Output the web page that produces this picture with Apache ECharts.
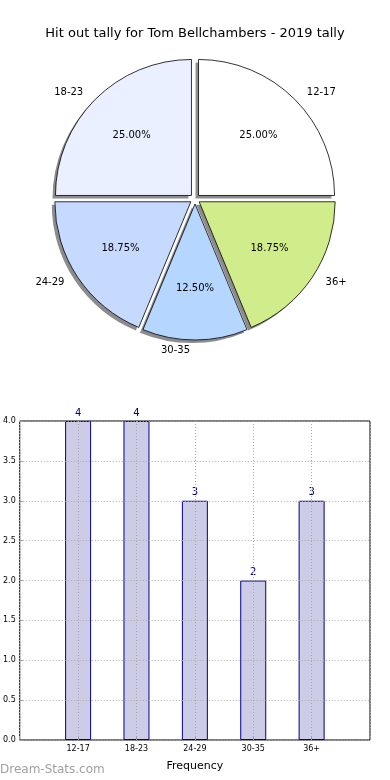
<!DOCTYPE html>
<html>
<head>
<meta charset="utf-8">
<script src="https://cdn.jsdelivr.net/npm/echarts@6/dist/echarts.min.js"></script>
<style>
html,body{margin:0;padding:0;background:#fff;}
#chart{width:390px;height:780px;}
</style>
</head>
<body>
<div id="chart"></div>
<script>
var titleText = 'Hit out tally for Tom Bellchambers - 2019 tally';
var categories = ['12-17', '18-23', '24-29', '30-35', '36+'];
var tallies = [4, 4, 3, 2, 3];
var sliceColors = ['#ffffff', '#eaf0ff', '#c6d9ff', '#b4d6ff', '#d0ec8b'];
var yTicks = [0, 0.5, 1, 1.5, 2, 2.5, 3, 3.5, 4];
var xAxisName = 'Frequency';
var watermark = 'Dream-Stats.com';

var total = tallies.reduce(function (a, b) { return a + b; }, 0);
var FONT = 'DejaVu Sans';
var R = 136;
var CX = 195, CY = 199;

function sliceItems(withColor) {
  return categories.map(function (c, i) {
    var d = { name: c, value: tallies[i], selected: true };
    if (withColor) d.itemStyle = { color: sliceColors[i] };
    return d;
  });
}
var barData = tallies.map(function (v, i) { return [i + 1, v]; });

var pieCommon = {
  type: 'pie', startAngle: 0, clockwise: false,
  selectedMode: 'multiple', selectedOffset: 5,
  silent: true, avoidLabelOverlap: false
};

var chart = echarts.init(document.getElementById('chart'), null, { renderer: 'canvas' });
chart.setOption({
  animation: false,
  backgroundColor: '#ffffff',
  title: {
    text: titleText, left: 'center', top: 22,
    textStyle: { fontFamily: FONT, fontSize: 13, fontWeight: 'normal', color: '#000' }
  },
  graphic: [{
    type: 'text', left: 0, top: 764,
    style: { text: watermark, font: '12px "DejaVu Sans"', fill: '#a0a0a0' }
  }],
  grid: {
    left: 19, right: 20, top: 421, bottom: 40,
    show: true, borderColor: '#000', borderWidth: 1, backgroundColor: 'transparent'
  },
  xAxis: {
    type: 'value', min: 0, max: categories.length + 1, interval: 1, z: 3,
    name: xAxisName, nameLocation: 'middle', nameGap: 21,
    nameTextStyle: { fontFamily: FONT, fontSize: 11, color: '#000' },
    axisLine: { show: false },
    axisTick: { show: true, inside: true, length: 3, lineStyle: { color: '#999' } },
    axisLabel: {
      fontFamily: FONT, fontSize: 8, color: '#000', margin: 5,
      formatter: function (v) { return categories[v - 1] || ''; }
    },
    splitLine: { show: true, lineStyle: { color: '#a8a8a8', type: [1, 2], width: 1 } }
  },
  yAxis: {
    type: 'value', min: yTicks[0], max: yTicks[yTicks.length - 1], interval: yTicks[1] - yTicks[0], z: 3,
    axisLine: { show: false },
    axisTick: { show: true, inside: true, length: 3, lineStyle: { color: '#999' } },
    axisLabel: {
      fontFamily: FONT, fontSize: 8, color: '#000', margin: 4,
      formatter: function (v) { return v.toFixed(1); }
    },
    splitLine: { show: true, lineStyle: { color: '#a8a8a8', type: [1, 2], width: 1 } }
  },
  series: [
    Object.assign({}, pieCommon, {
      center: [CX - 3, CY + 3], radius: [0, R], z: 1,
      itemStyle: { color: '#8c8c8c', borderWidth: 0 },
      label: { show: false }, labelLine: { show: false },
      data: sliceItems(false)
    }),
    Object.assign({}, pieCommon, {
      center: [CX, CY], radius: [0, R], z: 2,
      itemStyle: { borderColor: '#000', borderWidth: 0.8 },
      label: {
        show: true, position: 'outside', formatter: '{b}',
        fontFamily: FONT, fontSize: 10, color: '#000'
      },
      labelLine: { show: false, length: 10, length2: 0 },
      data: sliceItems(true)
    }),
    Object.assign({}, pieCommon, {
      center: [CX, CY], radius: [0, R * 1.2], z: 3,
      itemStyle: { color: 'rgba(0,0,0,0)', borderWidth: 0 },
      label: {
        show: true, position: 'inside',
        formatter: function (p) { return (p.value / total * 100).toFixed(2) + '%'; },
        fontFamily: FONT, fontSize: 10, color: '#000'
      },
      labelLine: { show: false },
      data: sliceItems(false)
    }),
    {
      type: 'bar', data: barData, barWidth: 26,
      itemStyle: { color: 'rgb(204,204,230)', borderColor: '#000090', borderWidth: 1 },
      label: {
        show: true, position: 'top', distance: 3,
        fontFamily: FONT, fontSize: 10, color: '#000080',
        formatter: function (p) { return p.value[1]; }
      }
    }
  ]
});
</script>
</body>
</html>
